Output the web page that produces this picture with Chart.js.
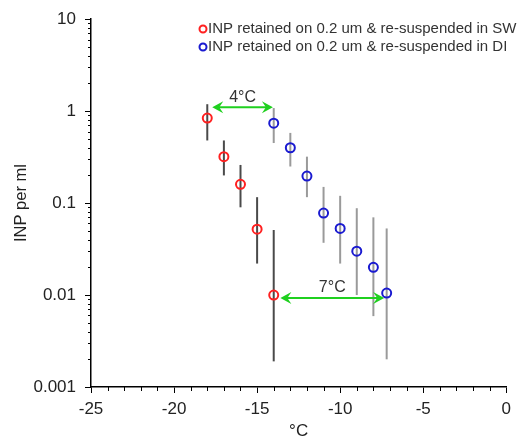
<!DOCTYPE html>
<html>
<head>
<meta charset="utf-8">
<script src="https://cdn.jsdelivr.net/npm/chart.js@4.4.1/dist/chart.umd.min.js"></script>
<style>
  html, body { margin: 0; padding: 0; background: #fff; }
  #wrap { width: 517px; height: 442px; }
</style>
</head>
<body>
<div id="wrap"><canvas id="inpChart"></canvas></div>
<script>
// Data
const swTemps = [-18, -17, -16, -15, -14];
const swValues = [0.84, 0.32, 0.16, 0.052, 0.010];
const swLow = [0.48, 0.20, 0.090, 0.022, 0.0019];
const swHigh = [1.19, 0.48, 0.26, 0.116, 0.051];

const diTemps = [-14, -13, -12, -11, -10, -9, -8, -7.2];
const diValues = [0.74, 0.40, 0.197, 0.078, 0.053, 0.030, 0.020, 0.0105];
const diLow = [0.45, 0.25, 0.116, 0.037, 0.022, 0.010, 0.0059, 0.0020];
const diHigh = [1.08, 0.58, 0.32, 0.15, 0.12, 0.088, 0.070, 0.053];

const legendLabels = ['INP retained on 0.2 um & re-suspended in SW', 'INP retained on 0.2 um & re-suspended in DI'];

// Shift arrows (temperature from / to, y value, label)
const arrowFrom = [-17.7, -13.6];
const arrowTo = [-14.05, -7.35];
const arrowY = [1.1, 0.0093];
const arrowLabels = ['4°C', '7°C'];

const xMajorTicks = [-25, -20, -15, -10, -5, 0];
const yMajorTicks = [0.001, 0.01, 0.1, 1, 10];

const FONT = 'Arial, "Liberation Sans", sans-serif';

function toPoints(xs, ys) {
    return xs.map((x, i) => ({ x: x, y: ys[i] }));
}

// Error bars, drawn under the markers
const errorBarPlugin = {
    id: 'errorBars',
    beforeDatasetsDraw(chart) {
        const ctx = chart.ctx;
        const xs = chart.scales.x, ys = chart.scales.y;
        const sets = [
            { t: swTemps, lo: swLow, hi: swHigh, color: '#4a4a4a' },
            { t: diTemps, lo: diLow, hi: diHigh, color: '#9a9a9a' }
        ];
        ctx.save();
        ctx.lineWidth = 2;
        sets.forEach(s => {
            ctx.strokeStyle = s.color;
            s.t.forEach((t, i) => {
                const px = xs.getPixelForValue(t);
                ctx.beginPath();
                ctx.moveTo(px, ys.getPixelForValue(s.lo[i]));
                ctx.lineTo(px, ys.getPixelForValue(s.hi[i]));
                ctx.stroke();
            });
        });
        ctx.restore();
    }
};

function arrowHead(ctx, x, y, dir) {
    // dir = -1 points left, 1 points right
    ctx.beginPath();
    ctx.moveTo(x, y);
    ctx.lineTo(x - dir * 11, y - 6);
    ctx.lineTo(x - dir * 7, y);
    ctx.lineTo(x - dir * 11, y + 6);
    ctx.closePath();
    ctx.fill();
}

// Green arrows + labels, legend, minor ticks
const extrasPlugin = {
    id: 'extras',
    afterDraw(chart) {
        const ctx = chart.ctx;
        const xs = chart.scales.x, ys = chart.scales.y;
        const area = chart.chartArea;
        ctx.save();

        // minor ticks
        ctx.strokeStyle = '#000';
        ctx.lineWidth = 1;
        for (let d = 0.001; d < 10; d *= 10) {
            for (let m = 2; m <= 9; m++) {
                const py = Math.round(ys.getPixelForValue(d * m)) + 0.5;
                ctx.beginPath();
                ctx.moveTo(area.left - 3, py);
                ctx.lineTo(area.left, py);
                ctx.stroke();
            }
        }
        for (let v = -24; v < 0; v++) {
            if (v % 5 === 0) continue;
            const px = Math.round(xs.getPixelForValue(v)) + 0.5;
            ctx.beginPath();
            ctx.moveTo(px, area.bottom);
            ctx.lineTo(px, area.bottom + 4);
            ctx.stroke();
        }

        // arrows
        ctx.strokeStyle = '#1fd01f';
        ctx.fillStyle = '#1fd01f';
        ctx.lineWidth = 2;
        arrowFrom.forEach((f, i) => {
            const x1 = xs.getPixelForValue(f);
            const x2 = xs.getPixelForValue(arrowTo[i]);
            const y = ys.getPixelForValue(arrowY[i]);
            ctx.beginPath();
            ctx.moveTo(x1 + 6, y);
            ctx.lineTo(x2 - 6, y);
            ctx.stroke();
            arrowHead(ctx, x1, y, -1);
            arrowHead(ctx, x2, y, 1);
            ctx.fillStyle = '#333';
            ctx.font = '16px ' + FONT;
            ctx.textAlign = 'center';
            ctx.textBaseline = 'bottom';
            ctx.fillText(arrowLabels[i], (x1 + x2) / 2, y - 2);
            ctx.fillStyle = '#1fd01f';
        });

        // legend
        const colors = ['#ff2020', '#1a1ad0'];
        const rows = [29, 47];
        ctx.font = '15px ' + FONT;
        ctx.textAlign = 'left';
        ctx.textBaseline = 'middle';
        legendLabels.forEach((lab, i) => {
            ctx.strokeStyle = colors[i];
            ctx.lineWidth = 2;
            ctx.beginPath();
            ctx.arc(203, rows[i], 3.5, 0, Math.PI * 2);
            ctx.stroke();
            ctx.fillStyle = '#333';
            ctx.fillText(lab, 208, rows[i]);
        });
        ctx.restore();
    }
};

const ctx = document.getElementById('inpChart').getContext('2d');
const inpChart = new Chart(ctx, {
    type: 'scatter',
    data: {
        datasets: [
            {
                label: legendLabels[0],
                data: toPoints(swTemps, swValues),
                borderColor: '#ff2020',
                backgroundColor: 'rgba(0,0,0,0)',
                borderWidth: 2,
                pointRadius: 4.5,
                pointHoverRadius: 4.5
            },
            {
                label: legendLabels[1],
                data: toPoints(diTemps, diValues),
                borderColor: '#1a1ad0',
                backgroundColor: 'rgba(0,0,0,0)',
                borderWidth: 2,
                pointRadius: 4.5,
                pointHoverRadius: 4.5
            }
        ]
    },
    options: {
        responsive: true,
        maintainAspectRatio: false,
        animation: false,
        layout: { padding: { top: 19, right: 10, left: 0, bottom: 0 } },
        plugins: {
            legend: { display: false },
            tooltip: { enabled: false }
        },
        scales: {
            x: {
                type: 'linear',
                min: -25,
                max: 0,
                afterFit(scale) { scale.height = 55; },
                afterBuildTicks(scale) {
                    scale.ticks = xMajorTicks.map(v => ({ value: v }));
                },
                border: { display: true, color: '#000', width: 1.5 },
                grid: { drawOnChartArea: false, drawTicks: true, tickLength: 6, color: '#000' },
                ticks: {
                    color: '#222',
                    padding: 6,
                    maxRotation: 0,
                    font: { family: FONT, size: 17 }
                },
                title: {
                    display: true,
                    text: '°C',
                    color: '#222',
                    padding: { top: 0, bottom: 0 },
                    font: { family: FONT, size: 17 }
                }
            },
            y: {
                type: 'logarithmic',
                min: 0.001,
                max: 10,
                afterFit(scale) { scale.width = 91; },
                afterBuildTicks(scale) {
                    scale.ticks = yMajorTicks.map(v => ({ value: v }));
                },
                border: { display: true, color: '#000', width: 1.5 },
                grid: { drawOnChartArea: false, drawTicks: true, tickLength: 6, color: '#000' },
                ticks: {
                    color: '#222',
                    padding: 9,
                    font: { family: FONT, size: 17 },
                    callback: function(value) { return String(value); }
                },
                title: {
                    display: true,
                    text: 'INP per ml',
                    color: '#222',
                    padding: { top: 12, bottom: 0 },
                    font: { family: FONT, size: 16.5 }
                }
            }
        }
    },
    plugins: [errorBarPlugin, extrasPlugin]
});
</script>
</body>
</html>
